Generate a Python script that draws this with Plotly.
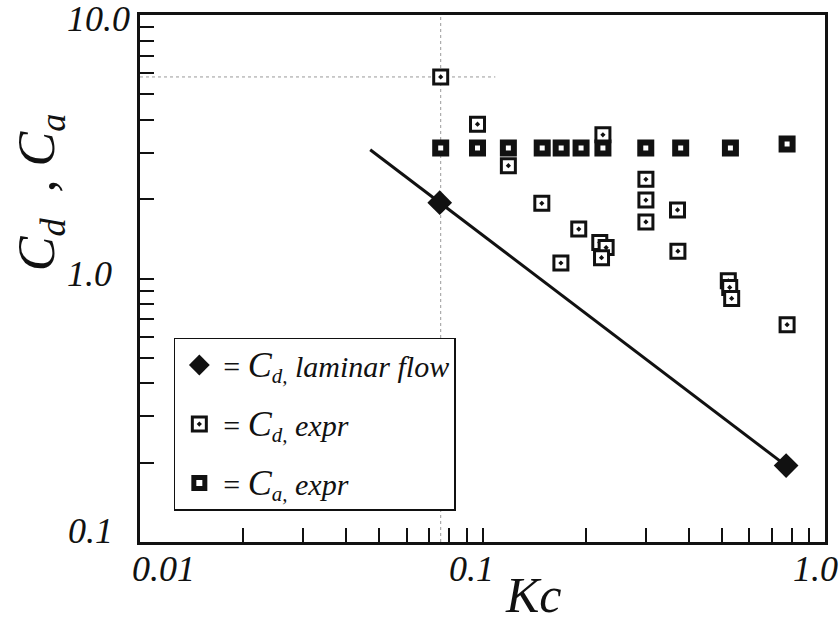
import numpy as np
import plotly.graph_objects as go

# Laminar-flow drag coefficient (diamonds) and the laminar trend line
kc_laminar = [0.075, 0.77]
cd_laminar = [1.94, 0.195]
kc_line = [0.047, 0.77]
cd_line = [3.08, 0.195]

# Experimental drag coefficients
kc_cd_expr = [0.0755, 0.0967, 0.119, 0.2247, 0.300, 0.300, 0.300, 0.149, 0.371,
              0.191, 0.220, 0.2296, 0.2226, 0.1694, 0.372, 0.522, 0.527, 0.534, 0.775]
cd_expr = [5.82, 3.85, 2.68, 3.51, 2.38, 1.985, 1.64, 1.93, 1.82,
           1.54, 1.37, 1.31, 1.20, 1.145, 1.27, 0.98, 0.925, 0.84, 0.668]

# Experimental added-mass coefficients
kc_ca_expr = [0.0755, 0.0967, 0.119, 0.1494, 0.1697, 0.194, 0.2247, 0.2997, 0.379, 0.5295, 0.775]
ca_expr = [3.13, 3.13, 3.13, 3.13, 3.13, 3.13, 3.13, 3.13, 3.13, 3.13, 3.24]

# Dotted guide lines through the highest drag point
guide_kc = 0.0755
guide_cd = 5.82
guide_kc_end = 0.109

# Tick labels
x_tick_vals = [0.01, 0.1, 1.0]
x_tick_text = ["0.01", "0.1", "1.0"]
y_tick_vals = [10.0, 1.0, 0.1]
y_tick_text = ["10.0", "1.0", "0.1"]

SERIF = "Liberation Serif"
BIG_C = '<span style="font-size:36px">C</span>'

fig = go.Figure()

# guide lines
fig.add_trace(go.Scatter(x=[guide_kc, guide_kc], y=[0.1, 10.0], mode="lines",
                         line=dict(color="#9a9a9a", width=1, dash="dot"),
                         showlegend=False, hoverinfo="skip"))
fig.add_trace(go.Scatter(x=[0.01, guide_kc_end], y=[guide_cd, guide_cd], mode="lines",
                         line=dict(color="#9a9a9a", width=1, dash="dot"),
                         showlegend=False, hoverinfo="skip"))

# laminar trend line
fig.add_trace(go.Scatter(x=kc_line, y=cd_line, mode="lines",
                         line=dict(color="#111111", width=3),
                         showlegend=False, hoverinfo="skip"))

fig.add_trace(go.Scatter(
    x=kc_laminar, y=cd_laminar, mode="markers", legendgroup="a",
    name=f"= <i>{BIG_C}<sub>d,</sub> laminar flow</i>",
    marker=dict(symbol="diamond", size=19, color="#111111"),
))
fig.add_trace(go.Scatter(
    x=kc_cd_expr, y=cd_expr, mode="markers", legendgroup="b",
    name=f"= <i>{BIG_C}<sub>d,</sub> expr</i>",
    marker=dict(symbol="square-dot", size=14, color="white",
                line=dict(color="#111111", width=3)),
))
fig.add_trace(go.Scatter(
    x=kc_ca_expr, y=ca_expr, mode="markers", legendgroup="c",
    name=f"= <i>{BIG_C}<sub>a,</sub> expr</i>",
    marker=dict(symbol="square", size=11, color="white",
                line=dict(color="#111111", width=6)),
))

axis_common = dict(
    type="log", showgrid=False, zeroline=False,
    showline=True, linecolor="#111111", linewidth=3, mirror=True,
    ticks="inside", ticklen=14, tickwidth=2, tickcolor="#111111",
    dtick="D1", showticklabels=False,
)

annotations = []
x_label_shift = [23, -11, -10]
for v, t, dx in zip(x_tick_vals, x_tick_text, x_label_shift):
    annotations.append(dict(
        x=np.log10(v), xref="x", y=0, yref="paper", text=f"<i>{t}</i>",
        showarrow=False, xanchor="center", yanchor="middle",
        xshift=dx, yshift=-27,
        font=dict(family=SERIF, size=36, color="#111111"),
    ))
y_label_center = [98, 89, 90]
y_label_shift = [-4, 5, 11]
for v, t, cx, dy in zip(y_tick_vals, y_tick_text, y_label_center, y_label_shift):
    annotations.append(dict(
        x=0, xref="paper", y=np.log10(v), yref="y", text=f"<i>{t}</i>",
        showarrow=False, xanchor="center", yanchor="middle",
        xshift=cx - 140, yshift=dy,
        font=dict(family=SERIF, size=36, color="#111111"),
    ))

annotations.append(dict(
    x=0.574, xref="paper", y=-0.10, yref="paper", text="<i>Kc</i>",
    showarrow=False, xanchor="center", yanchor="middle",
    font=dict(family=SERIF, size=50, color="#111111"),
))
annotations.append(dict(
    x=-0.145, xref="paper", y=0.663, yref="paper",
    text="<i>C<sub>d</sub>&nbsp;&nbsp;,&nbsp;C<sub>a</sub></i>", textangle=-90,
    showarrow=False, xanchor="center", yanchor="middle",
    font=dict(family=SERIF, size=52, color="#111111"),
))

fig.update_layout(
    width=840, height=622,
    margin=dict(l=140, r=12, t=14, b=80),
    paper_bgcolor="white", plot_bgcolor="white",
    xaxis=dict(range=[-2, 0], **axis_common),
    yaxis=dict(range=[-1, 1], **axis_common),
    legend=dict(
        x=0.0494, y=0.388, xanchor="left", yanchor="top",
        bgcolor="white", bordercolor="#111111", borderwidth=1.5,
        font=dict(family=SERIF, size=30, color="#111111"),
        tracegroupgap=17, itemwidth=38,
        entrywidth=265, entrywidthmode="pixels",
    ),
    annotations=annotations,
)

fig.write_html("out.html")
